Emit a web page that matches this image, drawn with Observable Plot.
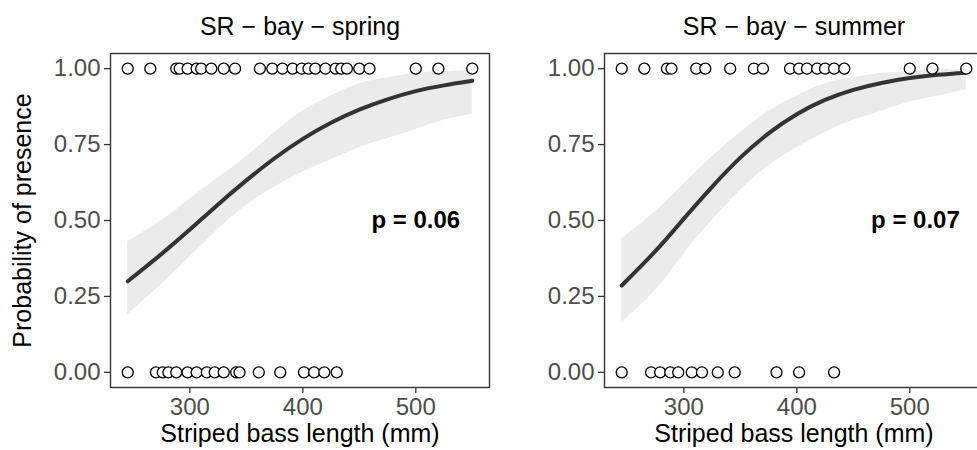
<!DOCTYPE html>
<html>
<head>
<meta charset="utf-8">
<script src="https://cdn.jsdelivr.net/npm/d3@7"></script>
<script src="https://cdn.jsdelivr.net/npm/@observablehq/plot@0.6"></script>
<style>
  html, body { margin: 0; padding: 0; background: white; overflow: hidden; }
  #wrap { position: relative; width: 977px; height: 450px; overflow: hidden; }
  #wrap > svg { position: absolute; top: 0; }
</style>
</head>
<body>
<div id="wrap"></div>
<script>
// ---- data ----
const panelTitles = ["SR \u2212 bay \u2212 spring", "SR \u2212 bay \u2212 summer"];
const pLabels = ["p = 0.06", "p = 0.07"];
const xTicks = [300, 400, 500];
const yTicks = [0, 0.25, 0.5, 0.75, 1];

// lengths (mm) of fish detected present (1) / absent (0)
const springPresent = [245, 265, 288, 291, 298, 306, 310, 319, 330, 340, 362, 373, 382, 391, 399, 405, 411, 420, 429, 434, 439, 450, 459, 500, 520, 550];
const springAbsent  = [245, 270, 276, 281, 288, 298, 306, 315, 322, 330, 341, 344, 361, 380, 401, 410, 419, 430];
const summerPresent = [245, 265, 285, 289, 311, 319, 341, 362, 370, 394, 402, 409, 418, 425, 433, 442, 500, 520, 550];
const summerAbsent  = [245, 271, 279, 288, 295, 307, 316, 330, 345, 382, 402, 433];

// fitted curve and confidence band, read at these lengths
const curveX    = [245, 275, 300, 325, 350, 375, 400, 425, 450, 475, 500, 525, 550];
const springFit = [0.30, 0.39, 0.47, 0.553, 0.632, 0.705, 0.769, 0.822, 0.865, 0.899, 0.926, 0.945, 0.96];
const springLo  = [0.19, 0.29, 0.38, 0.47, 0.55, 0.61, 0.66, 0.70, 0.74, 0.77, 0.80, 0.83, 0.85];
const springHi  = [0.43, 0.50, 0.57, 0.64, 0.71, 0.79, 0.86, 0.91, 0.95, 0.97, 0.985, 0.99, 0.995];
const summerFit = [0.286, 0.40, 0.506, 0.611, 0.707, 0.787, 0.85, 0.897, 0.93, 0.953, 0.969, 0.98, 0.987];
const summerLo  = [0.165, 0.27, 0.39, 0.50, 0.60, 0.68, 0.74, 0.79, 0.83, 0.86, 0.89, 0.91, 0.93];
const summerHi  = [0.44, 0.53, 0.62, 0.71, 0.79, 0.86, 0.91, 0.95, 0.97, 0.985, 0.99, 0.995, 0.998];
const pLabelX = [500, 505];

// ---- build tables ----
function pts(present, absent) {
  return present.map(x => ({x, y: 1})).concat(absent.map(x => ({x, y: 0})));
}
function band(fit, lo, hi) {
  return curveX.map((x, i) => ({x, fit: fit[i], lo: lo[i], hi: hi[i]}));
}
const panels = [
  {title: panelTitles[0], p: pLabels[0], px: pLabelX[0], points: pts(springPresent, springAbsent), curve: band(springFit, springLo, springHi), yTitle: true},
  {title: panelTitles[1], p: pLabels[1], px: pLabelX[1], points: pts(summerPresent, summerAbsent), curve: band(summerFit, summerLo, summerHi), yTitle: false}
];

const FONT = "'Liberation Sans', Arial, Helvetica, sans-serif";
const W = 494, H = 450;
const blank = () => "";

function makePanel(d) {
  const marks = [
    Plot.areaY(d.curve, {x: "x", y1: "lo", y2: "hi", fill: "#ebebeb", curve: "natural"}),
    Plot.lineY(d.curve, {x: "x", y: "fit", stroke: "#333333", strokeWidth: 4, curve: "natural"}),
    Plot.dot(d.points, {x: "x", y: "y", r: 5.5, stroke: "black", fill: "white", strokeWidth: 1.3}),
    Plot.frame({stroke: "#333333", strokeWidth: 1.4}),
    Plot.axisX({ticks: xTicks, tickSize: 6, tickFormat: blank, stroke: "#333333", strokeWidth: 1.3, label: null}),
    Plot.axisX({ticks: xTicks, tickSize: 0, tickPadding: 10, fill: "#4d4d4d", fontSize: 24, tickFormat: d3.format("d"), label: null}),
    Plot.axisY({ticks: yTicks, tickSize: 6, tickFormat: blank, stroke: "#333333", strokeWidth: 1.3, label: null}),
    Plot.axisY({ticks: yTicks, tickSize: 0, tickPadding: 10, fill: "#4d4d4d", fontSize: 24, tickFormat: d3.format(".2f"), label: null}),
    Plot.text([d.title], {frameAnchor: "top", lineAnchor: "middle", dy: -27, fontSize: 25, fill: "black"}),
    Plot.text(["Striped bass length (mm)"], {frameAnchor: "bottom", lineAnchor: "middle", dy: 46, fontSize: 25, fill: "black"}),
    Plot.text([{x: d.px, y: 0.5, t: d.p}], {x: "x", y: "y", text: "t", fontSize: 24, fontWeight: "bold", fill: "black"})
  ];
  if (d.yTitle) {
    marks.push(Plot.text(["Probability of presence"], {frameAnchor: "left", textAnchor: "middle", lineAnchor: "middle", dx: -88, rotate: -90, fontSize: 25, fill: "black"}));
  }
  return Plot.plot({
    width: W, height: H,
    marginLeft: 110, marginRight: 5, marginTop: 53, marginBottom: 63,
    x: {domain: [229.75, 565.25]},
    y: {domain: [-0.05, 1.05]},
    style: {fontFamily: FONT, background: "transparent", overflow: "visible"},
    marks
  });
}

const wrap = document.getElementById("wrap");
panels.forEach((d, i) => {
  const svg = makePanel(d);
  svg.style.left = (i * W) + "px";
  wrap.appendChild(svg);
});
</script>
</body>
</html>
